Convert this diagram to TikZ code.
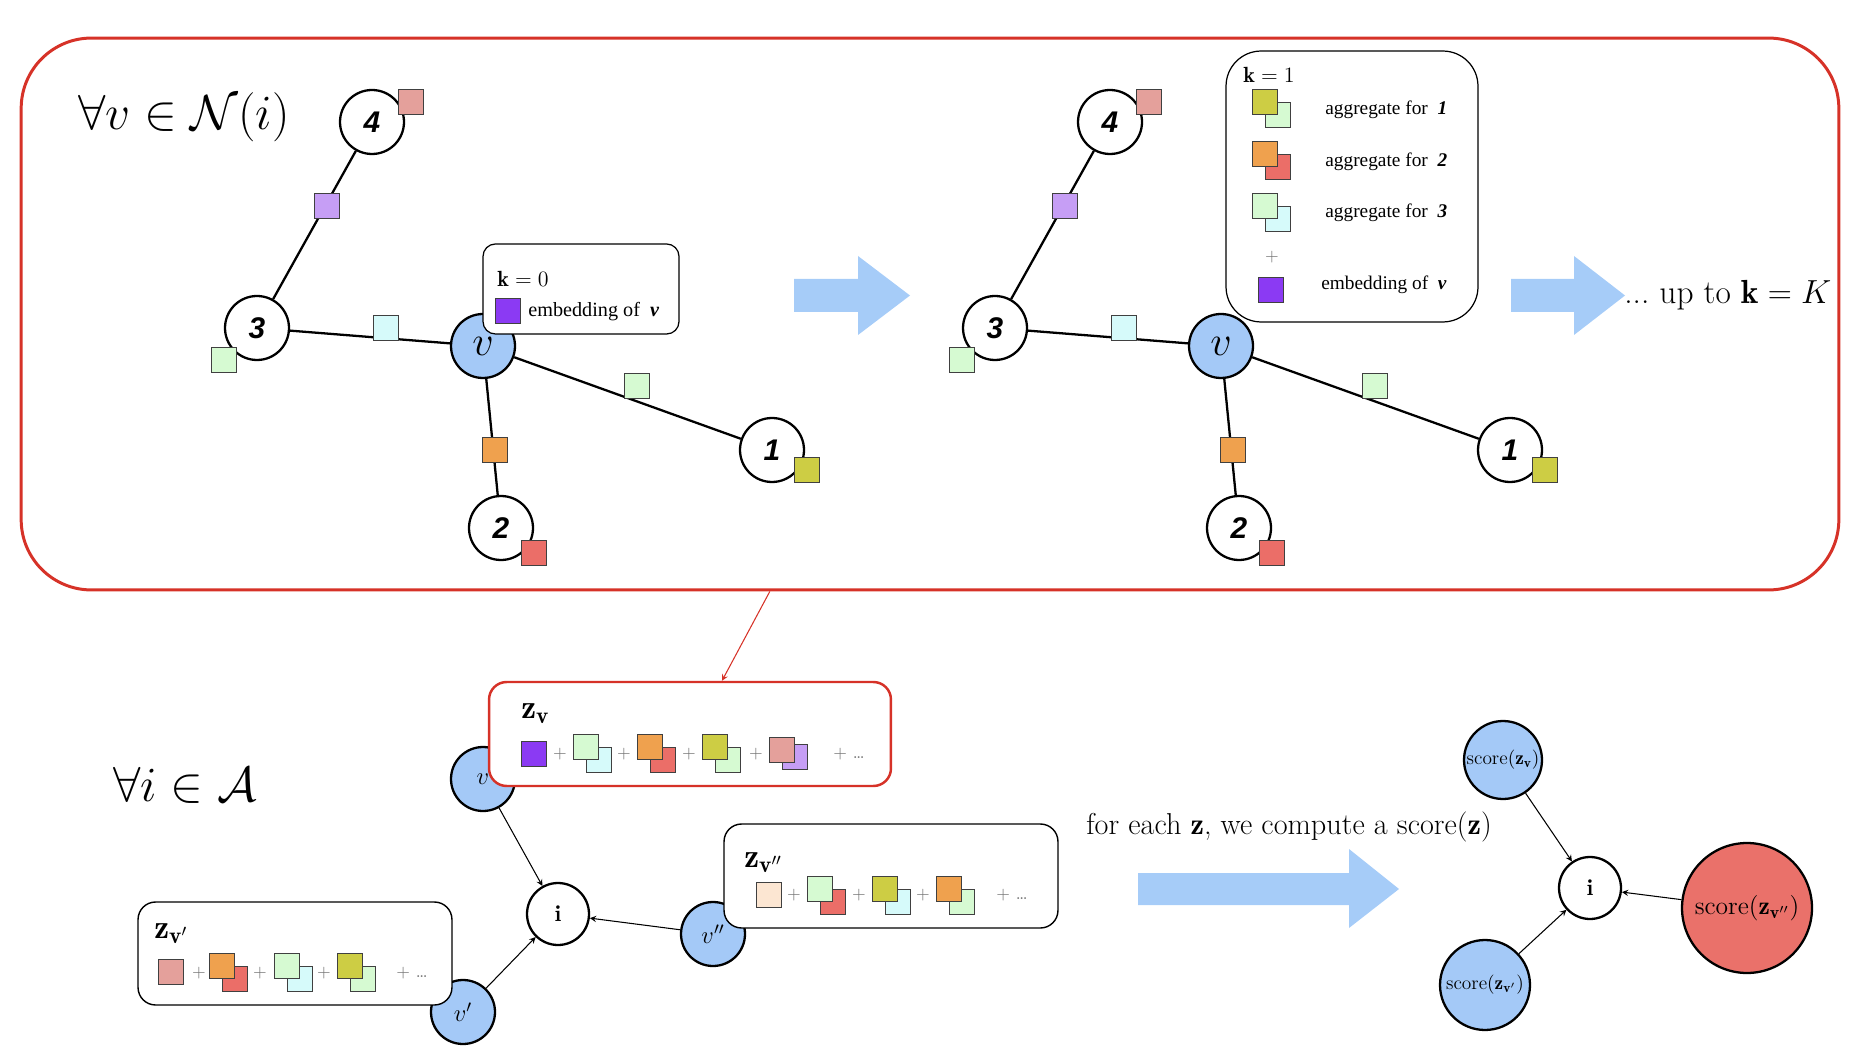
\RequirePackage{fix-cm}
\documentclass[tikz,border=0pt]{standalone}
\usepackage{fontspec}
\newfontfamily\timesfont{Liberation Serif}
\newfontfamily\arialfont{Liberation Sans}
\usetikzlibrary{backgrounds}

\definecolor{nodeblue}{RGB}{164,201,247}
\definecolor{arrowblue}{RGB}{166,204,248}
\definecolor{panelred}{RGB}{214,50,40}
\definecolor{embpurple}{RGB}{139,58,243}
\definecolor{lpurple}{RGB}{198,158,245}
\definecolor{rosepink}{RGB}{228,160,155}
\definecolor{lgreen}{RGB}{214,250,210}
\definecolor{lcyan}{RGB}{214,250,250}
\definecolor{aggorange}{RGB}{239,161,78}
\definecolor{salmon}{RGB}{235,110,104}
\definecolor{aggolive}{RGB}{205,205,68}
\definecolor{peach}{RGB}{252,230,210}
\definecolor{scorered}{RGB}{234,113,106}

\tikzset{
  gnode/.style={circle, draw, line width=1.3pt, fill=white, minimum size=1.28cm, inner sep=0pt,
    font=\arialfont\bfseries\itshape\fontsize{17}{17}\selectfont},
  vnode/.style={gnode, fill=nodeblue, font=\fontsize{24}{24}\selectfont},
  bnode/.style={gnode, fill=nodeblue, font=\fontsize{14}{14}\selectfont},
  inode/.style={gnode, minimum size=1.24cm, font=\fontsize{13}{13}\selectfont},
  snode/.style={gnode, fill=nodeblue, font=\fontsize{11}{11}\selectfont},
  edge/.style={line width=1.3pt},
  link/.style={->, line width=0.6pt},
  sqline/.style={draw=black!75, line width=0.5pt},
  kbox/.style={draw, line width=0.7pt, fill=white},
  zbox/.style={draw, line width=0.8pt, fill=white, rounded corners=10pt},
  legtext/.style={anchor=west, inner sep=0pt, font=\timesfont\fontsize{11}{13}\selectfont},
  plus/.style={inner sep=0pt, text=black!55, font=\fontsize{10}{12}\selectfont},
  zlabel/.style={anchor=base west, inner sep=0pt, font=\fontsize{19}{20}\selectfont},
}

\newcommand{\sqbox}[3]{\filldraw[sqline, fill=#3] (#1-12.5,#2-12.5) rectangle ++(25,25);}
\newcommand{\sqpair}[4]{\sqbox{#1+13}{#2+13}{#4}\sqbox{#1}{#2}{#3}}

\begin{document}
\begin{tikzpicture}[x=0.02cm, y=-0.02cm, >=stealth]
  \useasboundingbox (0,0) rectangle (1852,1060);

  % upper panel
  \node[draw=panelred, line width=1.7pt, rounded corners=40pt, minimum width=36.36cm, minimum height=11.04cm] (panel) at (930,314) {};
  \node[anchor=base west, inner sep=0pt, font=\fontsize{28}{30}\selectfont] (forallv) at (78,130) {$\forall v \in \mathcal{N}(i)$};

  % legend k = 1
  \node[kbox, rounded corners=20pt, minimum width=5.04cm, minimum height=5.42cm] (k1) at (1352,186.5) {};
  \node[anchor=west, inner sep=0pt, font=\fontsize{12.5}{13}\selectfont] (k1t) at (1243,75) {$\mathbf{k}=1$};
  \sqpair{1264.5}{102}{aggolive}{lgreen}
  \sqpair{1264.5}{154}{aggorange}{salmon}
  \sqpair{1264.5}{205.5}{lgreen}{lcyan}
  \node[legtext] (agg1) at (1325,110) {aggregate for~ \textbf{\textit{1}}};
  \node[legtext] (agg2) at (1325,162) {aggregate for~ \textbf{\textit{2}}};
  \node[legtext] (agg3) at (1325,213) {aggregate for~ \textbf{\textit{3}}};
  \node[plus] (k1plus) at (1272,257) {+};
  \sqbox{1271}{289.5}{embpurple}
  \node[legtext] (emb1) at (1321,285) {embedding of~ \textbf{\textit{v}}};

  % the neighbourhood of v, before and after one step
  \foreach \sx/\g in {0/L,738/R} {
    \begin{scope}[shift={(\sx,0)}]
      \node[vnode] (v\g) at (483,346) {$v$};
      \node[gnode] (a\g) at (772,450) {1};
      \node[gnode] (b\g) at (501,528) {2};
      \node[gnode] (c\g) at (257,328) {3};
      \node[gnode] (d\g) at (372,122) {4};
      \begin{pgfonlayer}{background}
        \draw[edge] (d\g) -- (c\g) (c\g) -- (v\g) (v\g) -- (a\g) (v\g) -- (b\g);
      \end{pgfonlayer}
      \sqbox{327}{206}{lpurple}
      \sqbox{386}{328}{lcyan}
      \sqbox{637}{386}{lgreen}
      \sqbox{495}{450}{aggorange}
      \sqbox{411}{102}{rosepink}
      \sqbox{224}{360}{lgreen}
      \sqbox{807}{470}{aggolive}
      \sqbox{534}{553}{salmon}
    \end{scope}
  }

  % legend k = 0
  \node[kbox, rounded corners=7pt, minimum width=3.92cm, minimum height=1.8cm] (k0) at (581,289) {};
  \node[anchor=west, inner sep=0pt, font=\fontsize{12.5}{13}\selectfont] (k0t) at (497,279) {$\mathbf{k}=0$};
  \sqbox{507.5}{311}{embpurple}
  \node[legtext, font=\timesfont\fontsize{11.5}{13}\selectfont] (emb0) at (528,312) {embedding of~ \textbf{\textit{v}}};

  \fill[arrowblue] (794,279) -- (858,279) -- (858,256) -- (910,295.5) -- (858,335) -- (858,312) -- (794,312) -- cycle;
  \fill[arrowblue] (1511,279) -- (1574,279) -- (1574,256) -- (1625,295.5) -- (1574,335) -- (1574,312) -- (1511,312) -- cycle;
  \node[anchor=base west, inner sep=0pt, font=\fontsize{19}{20}\selectfont] (upto) at (1624,304) {...\ up to $\mathbf{k}=K$};

  % lower part
  \node[anchor=base west, inner sep=0pt, font=\fontsize{28}{30}\selectfont] (foralli) at (113,801) {$\forall i \in \mathcal{A}$};
  \node[bnode] (vb) at (483,779) {$v$};
  \node[bnode] (vpb) at (463,1012) {$v'$};
  \node[bnode] (vppb) at (713,934) {$v''$};
  \node[inode] (ib) at (558,914) {$\mathbf{i}$};
  \draw[link] (vb) -- (ib);
  \draw[link] (vpb) -- (ib);
  \draw[link] (vppb) -- (ib);

  % z_v
  \node[zbox, draw=panelred, line width=1.4pt, minimum width=8.04cm, minimum height=2.08cm] (zv) at (690,734) {};
  \node[zlabel] (zvt) at (521,718) {$\mathbf{z}_{\mathbf{v}}$};
  \sqbox{534}{753.5}{embpurple}
  \foreach \x/\fa/\fb in {586/lgreen/lcyan, 650/aggorange/salmon, 715/aggolive/lgreen} {\sqpair{\x}{747}{\fa}{\fb}}
  \sqbox{794.5}{757}{lpurple}
  \sqbox{781.5}{750}{rosepink}
  \foreach \x [count=\k] in {560,624,689,756} {\node[plus] (pv\k) at (\x,754) {+};}
  \node[plus, anchor=west] (pvd) at (833,754) {+ \dots};
  \draw[link, panelred] (panel.240.4) -- (zv.59);

  % z_v''
  \node[zbox, minimum width=6.68cm, minimum height=2.08cm] (zvpp) at (891,876) {};
  \node[zlabel] (zvppt) at (744,867) {$\mathbf{z}_{\mathbf{v}''}$};
  \sqbox{768.5}{895}{peach}
  \foreach \x/\fa/\fb in {820/lgreen/salmon, 885/aggolive/lcyan, 949/aggorange/lgreen} {\sqpair{\x}{889}{\fa}{\fb}}
  \foreach \x [count=\k] in {794,859,923} {\node[plus] (pvpp\k) at (\x,895) {+};}
  \node[plus, anchor=west] (pvppd) at (996,895) {+ \dots};

  % z_v'
  \node[zbox, minimum width=6.28cm, minimum height=2.06cm] (zvp) at (295,953.5) {};
  \node[zlabel] (zvpt) at (154,938) {$\mathbf{z}_{\mathbf{v}'}$};
  \sqbox{171}{972}{rosepink}
  \foreach \x/\fa/\fb in {221.5/aggorange/salmon, 287/lgreen/lcyan, 350/aggolive/lgreen} {\sqpair{\x}{966}{\fa}{\fb}}
  \foreach \x [count=\k] in {199,260,324} {\node[plus] (pvp\k) at (\x,973) {+};}
  \node[plus, anchor=west] (pvpd) at (396,973) {+ \dots};

  % scores
  \node[anchor=base west, inner sep=0pt, font=\fontsize{17.2}{18}\selectfont] (foreach) at (1086,834) {for each $\mathbf{z}$, we compute a score$(\mathbf{z})$};
  \fill[arrowblue] (1138,873) -- (1349,873) -- (1349,849) -- (1399,889) -- (1349,928) -- (1349,905) -- (1138,905) -- cycle;
  \node[snode, minimum size=1.56cm] (sv) at (1503,760) {score$(\mathbf{z}_{\mathbf{v}})$};
  \node[snode, minimum size=1.8cm] (svp) at (1485,985) {score$(\mathbf{z}_{\mathbf{v}'})$};
  \node[snode, fill=scorered, minimum size=2.6cm, font=\fontsize{14.5}{15}\selectfont] (svpp) at (1747,908) {score$(\mathbf{z}_{\mathbf{v}''})$};
  \node[inode] (is) at (1590,888) {$\mathbf{i}$};
  \draw[link] (sv) -- (is);
  \draw[link] (svp) -- (is);
  \draw[link] (svpp) -- (is);
\end{tikzpicture}
\end{document}
